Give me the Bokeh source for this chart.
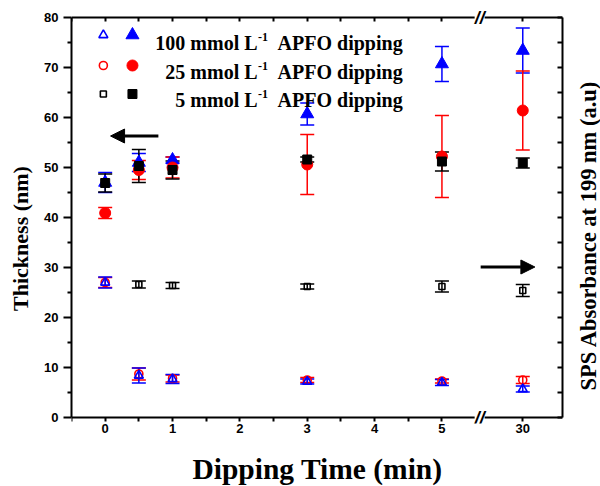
import math
from bokeh.plotting import figure
from bokeh.layouts import column, row
from bokeh.models import (ColumnDataSource, Whisker, TeeHead, Label, Arrow, NormalHead,
                          LinearAxis, FixedTicker, Range1d)
from bokeh.embed import file_html
from bokeh.resources import INLINE

# ---------------- data ----------------
times = [0, 0.5, 1, 3, 5, 30]
x_tick_values = [0, 1, 2, 3, 4, 5, 30]
x_tick_labels = ["0", "1", "2", "3", "4", "5", "30"]
y_tick_values = [0, 10, 20, 30, 40, 50, 60, 70, 80]

# filled symbols: thickness (nm), left axis
thk_100 = [47.0, 51.0, 51.5, 60.7, 70.7, 73.4]
thk_100_err = [2.0, 1.8, 0.6, 2.2, 3.5, 4.5]
thk_25 = [40.9, 49.5, 50.0, 50.6, 52.2, 61.4]
thk_25_err = [1.1, 1.9, 2.1, 6.0, 8.2, 7.9]
thk_5 = [46.9, 50.3, 49.5, 51.6, 51.2, 50.9]
thk_5_err = [1.8, 3.3, 1.8, 0.5, 1.9, 1.0]

# open symbols: SPS absorbance (right axis has no numbers; drawn on the same frame)
sps_100 = [27.0, 8.4, 7.7, 7.2, 7.0, 5.7]
sps_100_err = [1.1, 1.5, 0.9, 0.5, 0.6, 0.6]
sps_25 = [27.0, 8.7, 7.8, 7.5, 7.3, 7.5]
sps_25_err = [1.0, 1.2, 0.7, 0.5, 0.4, 0.7]
sps_5_times = [0.5, 1, 3, 5, 30]
sps_5 = [26.6, 26.4, 26.2, 26.2, 25.4]
sps_5_err = [0.7, 0.6, 0.5, 1.1, 1.2]

series_labels = ["100 mmol L", "25 mmol L", "5 mmol L"]

# ---------------- broken axis mapping ----------------
BREAK_AT = 5.56
POS_30 = 6.2


def xpos(t):
    return t if t <= 5 else POS_30


BLUE = "#0000FF"
RED = "#FF0000"
BLACK = "#000000"
TICK_FONT = "Liberation Sans"
SERIF = "Liberation Serif"

p = figure(width=566, height=447, x_range=Range1d(-0.5, 6.79), y_range=Range1d(-1.2, 81.6),
           output_backend="svg", toolbar_location=None, x_axis_location=None,
           min_border_left=71, min_border_right=4, min_border_top=9, min_border_bottom=24)
p.xgrid.visible = False
p.ygrid.visible = False
p.outline_line_color = None

xt_pos = [xpos(t) for t in x_tick_values]
x_minor = [-0.5, 0.5, 1.5, 2.5, 3.5, 4.5]

# bottom tick labels (normal axis in the panel, labels only)
xlab = LinearAxis(ticker=FixedTicker(ticks=xt_pos, minor_ticks=[]),
                  major_label_overrides={xp: lab for xp, lab in zip(xt_pos, x_tick_labels)},
                  axis_line_color=None, major_tick_line_color=None, minor_tick_line_color=None,
                  major_tick_in=0, major_tick_out=0, minor_tick_in=0, minor_tick_out=0,
                  major_label_standoff=0, major_label_text_font=TICK_FONT,
                  major_label_text_font_style="bold", major_label_text_font_size="13px",
                  major_label_text_color="black")
p.add_layout(xlab, "below")
# bottom axis line + ticks at y = 0
xline = LinearAxis(ticker=FixedTicker(ticks=[], minor_ticks=xt_pos + x_minor),
                   fixed_location=0, minor_tick_in=0, minor_tick_out=4,
                   axis_line_width=2, minor_tick_line_width=2)
p.add_layout(xline, "below")

ya = p.yaxis[0]
ya.bounds = (0, 80)
ya.ticker = FixedTicker(ticks=y_tick_values, minor_ticks=list(range(5, 80, 10)))
ya.major_tick_out = 8
ya.major_tick_in = 0
ya.minor_tick_out = 4
ya.minor_tick_in = 0
ya.major_label_standoff = 5
ya.axis_line_width = 2
ya.major_tick_line_width = 2
ya.minor_tick_line_width = 2
ya.major_label_text_font = TICK_FONT
ya.major_label_text_font_style = "bold"
ya.major_label_text_font_size = "13px"
ya.major_label_text_color = "black"
ya.axis_label = "Thickness (nm)" + "\u00a0" * 8
ya.axis_label_standoff = 8
ya.axis_label_text_font = SERIF
ya.axis_label_text_font_style = "bold"
ya.axis_label_text_font_size = "22px"
ya.axis_label_text_color = "black"

top = LinearAxis(ticker=FixedTicker(ticks=[], minor_ticks=xt_pos + x_minor),
                 fixed_location=80, minor_tick_in=4, minor_tick_out=0,
                 axis_line_width=2, minor_tick_line_width=2)
p.add_layout(top, "above")

right = LinearAxis(ticker=FixedTicker(ticks=[], minor_ticks=list(range(0, 81, 5))),
                   bounds=(0, 80), minor_tick_in=5, minor_tick_out=0,
                   axis_line_width=2, minor_tick_line_width=2)
p.add_layout(right, "right")


def add_series(ts, ys, errs, color, marker, size, filled):
    xs = [xpos(t) for t in ts]
    src = ColumnDataSource(dict(x=xs, y=ys,
                                upper=[y + e for y, e in zip(ys, errs)],
                                lower=[y - e for y, e in zip(ys, errs)]))
    p.add_layout(Whisker(source=src, base="x", upper="upper", lower="lower", dimension="height",
                         line_color=color, line_width=1.5,
                         upper_head=TeeHead(size=14, line_color=color, line_width=1.5),
                         lower_head=TeeHead(size=14, line_color=color, line_width=1.5)))
    if filled:
        p.scatter("x", "y", source=src, marker=marker, size=size,
                  fill_color=color, line_color=color)
    else:
        p.scatter("x", "y", source=src, marker=marker, size=size,
                  fill_alpha=0, line_color=color, line_width=1.6)


add_series(sps_5_times, sps_5, sps_5_err, BLACK, "square", 6, False)
add_series(times, sps_25, sps_25_err, RED, "circle", 8, False)
add_series(times, sps_100, sps_100_err, BLUE, "triangle", 9, False)
add_series(times, thk_100, thk_100_err, BLUE, "triangle", 13, True)
add_series(times, thk_25, thk_25_err, RED, "circle", 11, True)
add_series(times, thk_5, thk_5_err, BLACK, "square", 9, True)

# ---------------- legend (open + filled key per row) ----------------
key_open_x = -0.027
key_fill_x = 0.405
row_y = [76.5, 70.4, 64.7]
text_base_y = [74.9, 69.1, 63.5]
key_styles = [(BLUE, "triangle", 9, 13), (RED, "circle", 8, 11), (BLACK, "square", 6, 9)]
for (col, mk, so, sf), ry in zip(key_styles, row_y):
    p.scatter([key_open_x], [ry], marker=mk, size=so, fill_alpha=0, line_color=col, line_width=1.6)
    p.scatter([key_fill_x], [ry], marker=mk, size=sf, fill_color=col, line_color=col)

for lab, by in zip(series_labels, text_base_y):
    p.add_layout(Label(x=2.262, y=by, text=lab, text_align="right", text_baseline="alphabetic",
                       text_font=SERIF, text_font_style="bold", text_font_size="20px",
                       text_color="black"))
    p.add_layout(Label(x=2.27, y=by + 1.2, text="-1", text_align="left", text_baseline="alphabetic",
                       text_font=SERIF, text_font_style="bold", text_font_size="12px",
                       text_color="black"))
    p.add_layout(Label(x=2.56, y=by, text="APFO dipping", text_align="left",
                       text_baseline="alphabetic", text_font=SERIF, text_font_style="bold",
                       text_font_size="20px", text_color="black"))

# ---------------- arrows ----------------
p.add_layout(Arrow(end=NormalHead(size=14, fill_color="black", line_color="black"),
                   x_start=0.79, y_start=56.3, x_end=0.08, y_end=56.3,
                   line_width=3, line_color="black"))
p.add_layout(Arrow(end=NormalHead(size=14, fill_color="black", line_color="black"),
                   x_start=5.575, y_start=30.1, x_end=6.38, y_end=30.1,
                   line_width=3, line_color="black"))

# ---------------- axis break marks ----------------
for yb in (0, 80):
    p.add_layout(Label(x=BREAK_AT, y=yb, text="//", text_align="center", text_baseline="middle",
                       text_font=TICK_FONT, text_font_style="bold italic", text_font_size="18px",
                       text_color="black", background_fill_color="white", level="overlay"))

# ---------------- right axis title (strip right of the chart) ----------------
pr = figure(width=34, height=447, x_range=Range1d(0, 34), y_range=Range1d(0, 447),
            output_backend="svg", toolbar_location=None, min_border=0,
            x_axis_location=None, y_axis_location=None)
pr.xgrid.visible = False
pr.ygrid.visible = False
pr.outline_line_color = None
pr.add_layout(Label(x=22, y=203, text="SPS Absorbance at 199 nm (a.u)", angle=math.pi / 2,
                    text_align="center", text_baseline="middle", text_font=SERIF,
                    text_font_style="bold", text_font_size="22.5px", text_color="black"))

# ---------------- x-axis title (strip below the chart) ----------------
pt = figure(width=600, height=39, x_range=Range1d(0, 600), y_range=Range1d(0, 39),
            output_backend="svg", toolbar_location=None, min_border=0,
            x_axis_location=None, y_axis_location=None)
pt.xgrid.visible = False
pt.ygrid.visible = False
pt.outline_line_color = None
pt.add_layout(Label(x=317, y=18, text="Dipping Time (min)", text_align="center",
                    text_baseline="middle", text_font=SERIF, text_font_style="bold",
                    text_font_size="29.5px", text_color="black"))

layout = column(row(p, pr, spacing=0), pt, spacing=0)
open("out.html", "w").write(file_html(layout, INLINE))
